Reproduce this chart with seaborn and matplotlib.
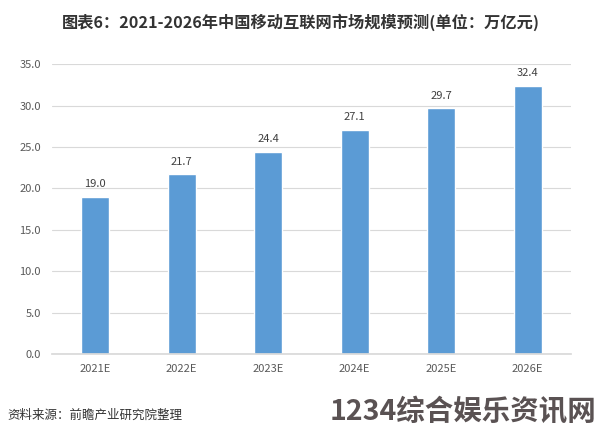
import matplotlib
matplotlib.use("Agg")
import matplotlib.pyplot as plt
import seaborn as sns
import pandas as pd

categories = ["2021E", "2022E", "2023E", "2024E", "2025E", "2026E"]
values = [19.0, 21.7, 24.4, 27.1, 29.7, 32.4]
yticks = [0, 5, 10, 15, 20, 25, 30, 35]

sns.set_theme(style="white")
plt.rcParams['font.family'] = ['Noto Sans CJK SC', 'DejaVu Sans']

df = pd.DataFrame({"year": categories, "value": values})

fig = plt.figure(figsize=(6.01, 4.36), dpi=100)
ax = fig.add_axes([0.0865, 0.188, 0.8635, 0.665])
sns.barplot(data=df, x="year", y="value", color="#5B9BD5", saturation=1, width=0.32, ax=ax)

ax.set_ylim(0, 35)
ax.set_yticks(yticks)
ax.set_yticklabels([f"{t:.1f}" for t in yticks], fontsize=8, color="#595959")
ax.tick_params(axis="x", labelsize=8, colors="#595959", length=0, pad=7)
ax.tick_params(axis="y", length=0, pad=8)
ax.set_xlabel("")
ax.set_ylabel("")
ax.yaxis.grid(True, color="#d9d9d9", linewidth=0.8)
ax.set_axisbelow(True)
for s in ["top", "right", "left"]:
    ax.spines[s].set_visible(False)
ax.spines["bottom"].set_color("#d9d9d9")

for p, v in zip(ax.patches, values):
    ax.text(p.get_x() + p.get_width() / 2, v + 0.9, f"{v:.1f}", ha="center", va="bottom",
            fontsize=8, color="#404040")

fig.text(0.5, 0.950, "图表6：2021-2026年中国移动互联网市场规模预测(单位：万亿元)", ha="center", va="center",
         fontsize=11.7, fontweight="bold", color="#333333")
fig.text(0.013, 0.048, "资料来源：前瞻产业研究院整理", ha="left", va="center", fontsize=9, color="#333333")
fig.text(0.993, 0.057, "1234综合娱乐资讯网", ha="right", va="center", fontsize=20.5, fontweight="bold",
         color="#5a5253")

fig.savefig("out.png", dpi=100, facecolor="white")
